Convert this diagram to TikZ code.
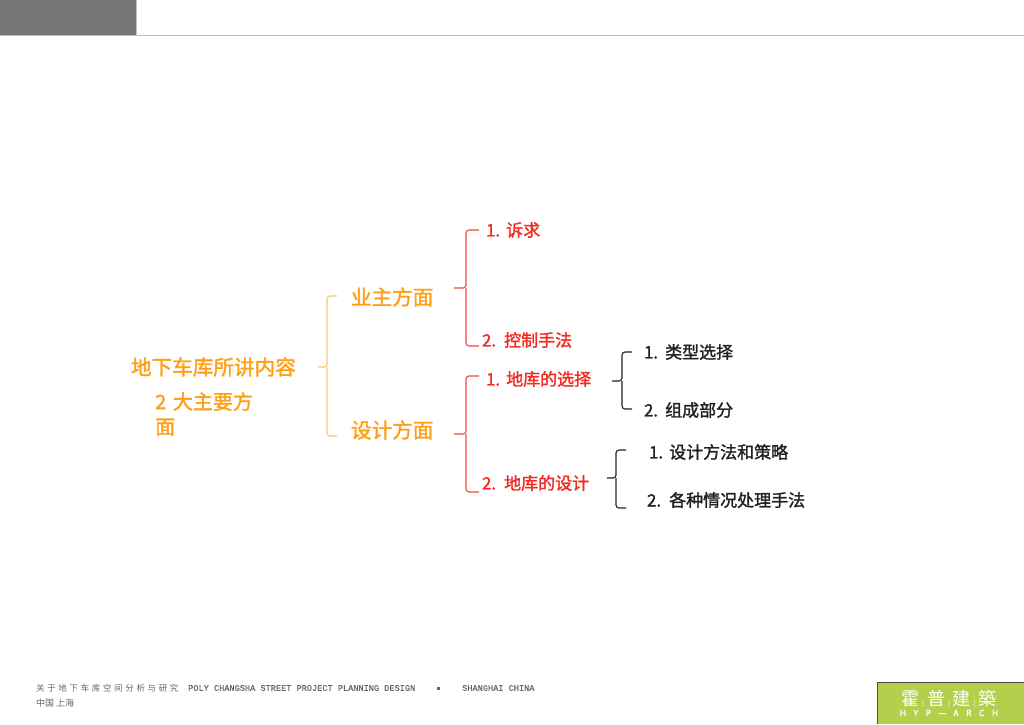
\documentclass[tikz,border=0pt]{standalone}
\usepackage{fontspec}
\setmainfont{Noto Sans CJK SC}
\newfontfamily\mono[FakeBold=0.3]{Liberation Mono}
\newfontfamily\cjkm[FakeBold=1.6]{Noto Sans CJK SC}
\definecolor{hdr}{HTML}{757575}
\definecolor{hdrline}{HTML}{F8B64C}
\definecolor{org}{HTML}{FF9F17}
\definecolor{orgline}{HTML}{FBC873}
\definecolor{redt}{HTML}{F5291F}
\definecolor{redl}{HTML}{EE4B3E}
\definecolor{blk}{HTML}{222222}
\definecolor{foot}{HTML}{666666}
\definecolor{logo}{HTML}{B5CF4C}
\tikzset{
  lab/.style={anchor=west,inner sep=0pt,outer sep=0pt,font=\fontsize{#1}{#1}\selectfont\cjkm},
  lab/.default=17,
  t1/.style={lab=20.6,text=org},
  t2/.style={lab=17,text=redt},
  t3/.style={lab=17,text=blk},
  brace/.style={line width=1.1pt,rounded corners=3pt},
  footn/.style={anchor=west,inner sep=0pt,text=foot,font=\fontsize{8.5}{8.5}\selectfont}
}
\begin{document}
\begin{tikzpicture}[x=1pt,y=-1pt]
\useasboundingbox (0,0) rectangle (1024,724);
\fill[white] (0,0) rectangle (1024,724);
% header
\fill[hdr] (0,0) rectangle (136,35);
\draw[color=gray!50,line width=1pt] (136.5,0) -- (136.5,35);
\draw[color=hdrline,line width=1pt] (0,35.5) -- (1024,35.5);
% text
\node[t1] (root) at (131,367) {地下车库所讲内容};
\node[anchor=west,inner sep=0pt,text=org,align=left,text width=110pt,font=\fontsize{20}{25}\selectfont\cjkm] (two) at (155,414) {2 大主要方\\面};
\node[t1] (owner) at (351,297) {业主方面};
\node[t1] (design) at (351,430) {设计方面};
\node[t2] (a1) at (486,230) {1.\hspace{6pt}诉求};
\node[t2] (a2) at (482,340) {2.\hspace{8pt}控制手法};
\node[t2] (b1) at (486,379) {1.\hspace{6pt}地库的选择};
\node[t2] (b2) at (482,483) {2.\hspace{8pt}地库的设计};
\node[t3] (c1) at (644,352) {1.\hspace{7pt}类型选择};
\node[t3] (c2) at (644,410) {2.\hspace{7pt}组成部分};
\node[t3] (d1) at (649,452) {1.\hspace{6pt}设计方法和策略};
\node[t3] (d2) at (647,500) {2.\hspace{8pt}各种情况处理手法};
% braces
\draw[brace,orgline] (337,296) -- (327,296) -- (327,367) -- (318,367);
\draw[brace,orgline] (337,436) -- (327,436) -- (327,367);
\draw[brace,redl] (479,230) -- (466,230) -- (466,288) -- (454,288);
\draw[brace,redl] (479,346) -- (466,346) -- (466,288);
\draw[brace,redl] (479,376) -- (466,376) -- (466,434) -- (454,434);
\draw[brace,redl] (479,492) -- (466,492) -- (466,434);
\draw[brace,blk] (632,352) -- (622,352) -- (622,381) -- (612,381);
\draw[brace,blk] (632,409) -- (622,409) -- (622,381);
\draw[brace,blk] (626,450) -- (616,450) -- (616,478) -- (607,478);
\draw[brace,blk] (626,508) -- (616,508) -- (616,478);
% footer
\node[footn] (f1) at (36,688) {关\hspace{2.65pt}于\hspace{2.65pt}地\hspace{2.65pt}下\hspace{2.65pt}车\hspace{2.65pt}库\hspace{2.65pt}空\hspace{2.65pt}间\hspace{2.65pt}分\hspace{2.65pt}析\hspace{2.65pt}与\hspace{2.65pt}研\hspace{2.65pt}究};
\node[footn,font=\fontsize{8.6}{8.6}\selectfont\mono] (f2) at (188,688) {POLY CHANGSHA STREET PROJECT PLANNING DESIGN};
\fill[foot] (437,687) rectangle (440,690);
\node[footn,font=\fontsize{8.6}{8.6}\selectfont\mono] (f3) at (462,688) {SHANGHAI CHINA};
\node[footn,font=\fontsize{9}{9}\selectfont] (f4) at (36,703) {中国\hspace{2pt}上海};
% logo
\fill[logo] (877,682) rectangle (1024,724);
\draw[color=black!70,line width=1pt] (877.5,724) -- (877.5,682.5) -- (1024,682.5);
\node[anchor=center,inner sep=0pt,text=white,font=\fontsize{18}{18}\selectfont] (l1) at (949,699) {霍\hspace{3pt}{\fontsize{7}{7}\selectfont|}\hspace{3pt}普\hspace{3pt}{\fontsize{7}{7}\selectfont|}\hspace{3pt}建\hspace{3pt}{\fontsize{7}{7}\selectfont|}\hspace{3pt}築};
\node[anchor=center,inner sep=0pt,text=white,font=\fontsize{8.5}{8.5}\selectfont\cjkm] (l2) at (949,713) {H\hspace{7.5pt}Y\hspace{7.5pt}P\hspace{7.5pt}—\hspace{7.5pt}A\hspace{7.5pt}R\hspace{7.5pt}C\hspace{7.5pt}H};
\end{tikzpicture}
\end{document}
